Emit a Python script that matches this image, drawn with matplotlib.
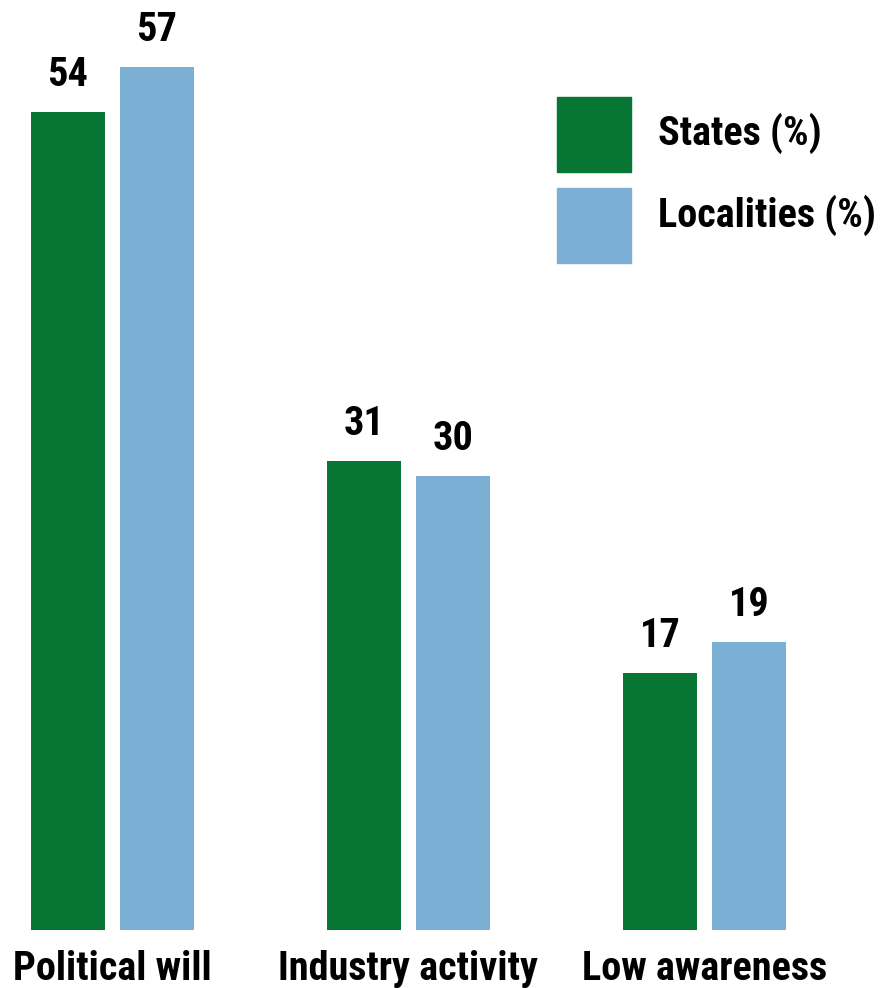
import matplotlib
matplotlib.use("Agg")
import matplotlib.pyplot as plt
from matplotlib.patches import Rectangle
import numpy as np

categories = ["Political will", "Industry activity", "Low awareness"]
states = [54, 31, 17]
localities = [57, 30, 19]
series_names = ["States (%)", "Localities (%)"]
colors = ["#077533", "#7bafd4"]

plt.rcParams['font.family'] = ['Roboto Condensed', 'DejaVu Sans']

W, H = 881, 988
fig = plt.figure(figsize=(W / 100, H / 100), dpi=100)
base_px = 930
ax = fig.add_axes([0, (H - base_px) / H, 1, base_px / H])
px_per_unit = 15.14
ax.set_ylim(0, base_px / px_per_unit)
group_px = 296.0
c0 = 112.5
ax.set_xlim((0 - c0) / group_px, (W - c0) / group_px)
ax.axis("off")

x = np.arange(len(categories))
bw = 74 / group_px
off = 44.5 / group_px
fs = 29
b1 = ax.bar(x - off, states, bw, color=colors[0])
b2 = ax.bar(x + off, localities, bw, color=colors[1])
for bars, vals in ((b1, states), (b2, localities)):
    for r, v in zip(bars, vals):
        ax.annotate(str(v), (r.get_x() + r.get_width() / 2, v), xytext=(0, 26 * 0.72),
                    textcoords="offset points", ha="center", va="baseline",
                    fontsize=fs, fontweight="bold")

for xi, c in zip(x, categories):
    fig.text((c0 + xi * group_px) / W, (H - 980) / H, c, ha="center", va="baseline",
             fontsize=fs, fontweight="bold")

# legend
baselines = [145, 227]
for i, (name, col) in enumerate(zip(series_names, colors)):
    top = 97 + i * 91
    fig.patches.append(Rectangle((557 / W, (H - top - 75) / H), 74 / W, 75 / H,
                                 transform=fig.transFigure, color=col))
    fig.text(658 / W, (H - baselines[i]) / H, name, ha="left", va="baseline",
             fontsize=fs, fontweight="bold")

fig.savefig("out.png", dpi=100)
